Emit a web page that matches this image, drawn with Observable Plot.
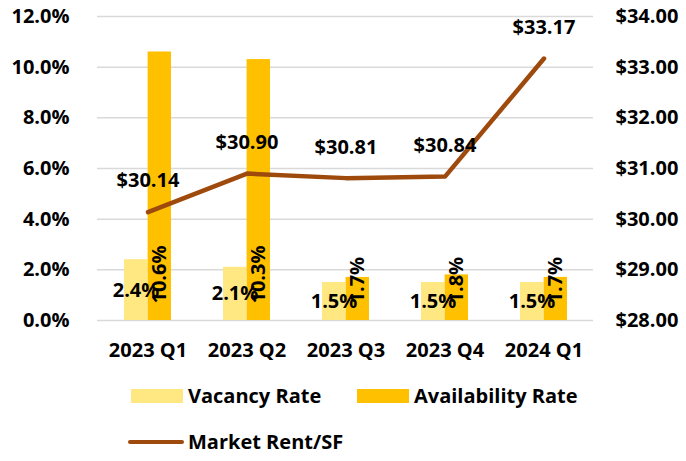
<!DOCTYPE html>
<html><head><meta charset="utf-8">
<script src="https://cdn.jsdelivr.net/npm/d3@7"></script>
<script src="https://cdn.jsdelivr.net/npm/@observablehq/plot@0.6"></script>
<style>
body{margin:0;background:#fff;font-family:"Open Sans",sans-serif;font-weight:bold;}
#wrap{width:686px;position:relative;}
#legend{position:relative;height:86px;width:686px;font-size:20px;color:#000;}
.it{position:absolute;display:flex;align-items:center;white-space:nowrap;}
.sw{display:inline-block;width:52px;height:14px;margin-right:5px;}
.ln{display:inline-block;width:56px;height:4px;border-radius:2px;margin-right:4px;}
</style></head>
<body><div id="wrap"><div id="chart"></div><div id="legend"></div></div>
<script>
const quarters = ["2023 Q1","2023 Q2","2023 Q3","2023 Q4","2024 Q1"];
const vacancy = [2.4, 2.1, 1.5, 1.5, 1.5];
const availability = [10.6, 10.3, 1.7, 1.8, 1.7];
const rent = [30.14, 30.90, 30.81, 30.84, 33.17];
const pctTicks = [0, 2, 4, 6, 8, 10, 12];
const rentMin = 28, rentMax = 34;

const cVac = "#FFE781", cAvail = "#FFC000", cRent = "#9E4A0C";
const toPct = r => (r - rentMin) / (rentMax - rentMin) * 12;
const rows = quarters.map((q, i) => ({q, vac: vacancy[i], avail: availability[i], rent: rent[i]}));
const FS = 20;

const chart = Plot.plot({
  width: 686, height: 375,
  marginLeft: 97, marginRight: 93, marginTop: 16, marginBottom: 55,
  style: {fontFamily: "'Open Sans', sans-serif", fontWeight: "bold", fontSize: FS + "px", color: "#000"},
  x: {domain: quarters, padding: 0, label: null},
  y: {domain: [0, 12], label: null},
  marks: [
    Plot.gridY(pctTicks, {stroke: "#d9d9d9", strokeOpacity: 1, strokeWidth: 1.5}),
    Plot.axisY(pctTicks, {anchor: "left", tickSize: 0, tickPadding: 28, tickFormat: d => d.toFixed(1) + "%", label: null, fontSize: FS}),
    Plot.axisY(pctTicks, {anchor: "right", tickSize: 0, tickPadding: 22, textAnchor: "start", tickFormat: d => "$" + (rentMin + d / 2).toFixed(2), label: null, fontSize: FS}),
    Plot.axisX({tickSize: 0, tickPadding: 22, label: null, fontSize: FS}),
    Plot.barY(rows, {x: "q", y: "vac", fill: cVac, insetLeft: 26, insetRight: 49.6}),
    Plot.barY(rows, {x: "q", y: "avail", fill: cAvail, insetLeft: 49.6, insetRight: 26}),
    Plot.text(rows, {x: "q", y: d => d.vac / 2, text: d => d.vac.toFixed(1) + "%", dx: -12, fontSize: FS, fill: "#000"}),
    Plot.text(rows, {x: "q", y: 0, text: d => d.avail.toFixed(1) + "%", dx: 12, dy: -17, rotate: -90, textAnchor: "start", fontSize: FS, fill: "#000"}),
    Plot.line(rows, {x: "q", y: d => toPct(d.rent), stroke: cRent, strokeWidth: 4.5}),
    Plot.text(rows, {x: "q", y: d => toPct(d.rent), text: d => "$" + d.rent.toFixed(2), dy: -31, fontSize: FS, fill: "#000"})
  ]
});
document.getElementById("chart").appendChild(chart);

const legend = document.getElementById("legend");
const items = [
  {label: "Vacancy Rate", color: cVac, kind: "sw", left: 131, top: 7},
  {label: "Availability Rate", color: cAvail, kind: "sw", left: 357, top: 7},
  {label: "Market Rent/SF", color: cRent, kind: "ln", left: 128, top: 53}
];
for (const it of items) {
  const d = document.createElement("div");
  d.className = "it";
  d.style.left = it.left + "px"; d.style.top = it.top + "px";
  const s = document.createElement("span");
  s.className = it.kind; s.style.background = it.color;
  d.appendChild(s);
  d.appendChild(document.createTextNode(it.label));
  legend.appendChild(d);
}
</script></body></html>
